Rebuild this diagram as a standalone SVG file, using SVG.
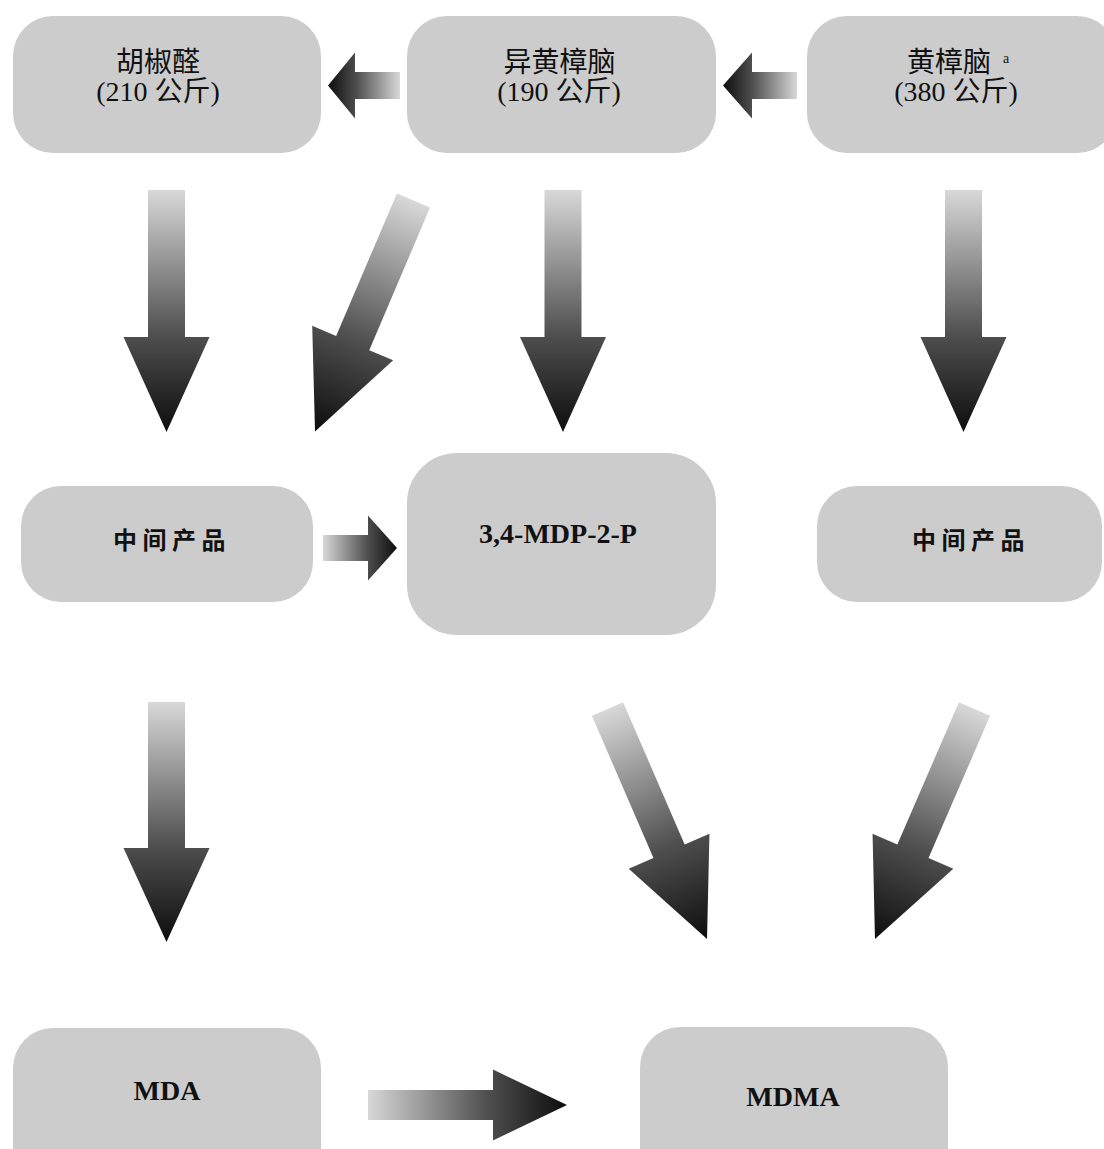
<svg xmlns="http://www.w3.org/2000/svg" width="1104" height="1149" viewBox="0 0 1104 1149">
<style>
.node{fill:#cccccc}
.lbl{font-family:"Liberation Serif","Noto Sans CJK SC",serif;font-size:28px;fill:#111}
.cjk{font-family:"Noto Sans CJK SC",sans-serif;font-size:24px;font-weight:bold;fill:#111;letter-spacing:5.5px}
.bold{font-family:"Liberation Serif",serif;font-size:28px;font-weight:bold;fill:#111}
.arr{fill:url(#g)}
</style>
<defs>
<linearGradient id="g" x1="0" y1="0" x2="0" y2="1">
<stop offset="0" stop-color="#d8d8d8"/>
<stop offset="0.6" stop-color="#4f4f4f"/>
<stop offset="1" stop-color="#0d0d0d"/>
</linearGradient>
</defs>
<rect width="1104" height="1149" fill="#ffffff"/>
<g id="connectors">
<!-- top horizontal arrows (pointing left) -->
<polygon class="arr" transform="translate(400,85.5) rotate(90)" points="-13.5,0 13.5,0 13.5,45 33,45 0,72 -33,45 -13.5,45"/>
<polygon class="arr" transform="translate(797,85.5) rotate(90)" points="-13.5,0 13.5,0 13.5,45 33,45 0,74 -33,45 -13.5,45"/>
<!-- row 1 down arrows -->
<polygon class="arr" transform="translate(166.5,190)" points="-18.5,0 18.5,0 18.5,147 43,147 0,242 -43,147 -18.5,147"/>
<polygon class="arr" transform="translate(413.5,200.5) rotate(23.1)" points="-18,0 18,0 18,155 44,155 0,251 -44,155 -18,155"/>
<polygon class="arr" transform="translate(563,190)" points="-18.5,0 18.5,0 18.5,147 43,147 0,242 -43,147 -18.5,147"/>
<polygon class="arr" transform="translate(963.5,190)" points="-18.5,0 18.5,0 18.5,147 43,147 0,242 -43,147 -18.5,147"/>
<!-- middle horizontal arrow -->
<polygon class="arr" transform="translate(323,548) rotate(-90)" points="-13,0 13,0 13,45 32.5,45 0,74 -32.5,45 -13,45"/>
<!-- row 2 down arrows -->
<polygon class="arr" transform="translate(166.5,702)" points="-18.5,0 18.5,0 18.5,146 43,146 0,240 -43,146 -18.5,146"/>
<polygon class="arr" transform="translate(607.5,709) rotate(-23.4)" points="-17,0 17,0 17,155 44,155 0,250.6 -44,155 -17,155"/>
<polygon class="arr" transform="translate(974.5,709) rotate(23.4)" points="-17,0 17,0 17,155 44,155 0,250.6 -44,155 -17,155"/>
<!-- bottom arrow -->
<polygon class="arr" transform="translate(368,1105) rotate(-90)" points="-15,0 15,0 15,125 35.5,125 0,199 -35.5,125 -15,125"/>
</g>
<g id="node-piperonal">
<rect class="node" x="13" y="16" width="308" height="137" rx="40"/>
<text class="lbl" x="158" y="72" text-anchor="middle">胡椒醛</text>
<text class="lbl" x="158" y="101" text-anchor="middle">(210 公斤)</text>
</g>
<g id="node-isosafrole">
<rect class="node" x="407" y="16" width="309" height="137" rx="40"/>
<text class="lbl" x="559.5" y="72" text-anchor="middle">异黄樟脑</text>
<text class="lbl" x="559" y="101" text-anchor="middle">(190 公斤)</text>
</g>
<g id="node-safrole">
<rect class="node" x="807" y="16" width="310" height="137" rx="40"/>
<text class="lbl" x="907" y="72">黄樟脑<tspan x="1003" y="63" font-size="14">a</tspan></text>
<text class="lbl" x="956" y="101" text-anchor="middle">(380 公斤)</text>
</g>
<g id="node-intermediate-left">
<rect class="node" x="21" y="486" width="292" height="116" rx="40"/>
<text class="cjk" x="113" y="549">中间产品</text>
</g>
<g id="node-mdp2p">
<rect class="node" x="407" y="453" width="309" height="182" rx="50"/>
<text class="bold" x="558" y="543" text-anchor="middle">3,4-MDP-2-P</text>
</g>
<g id="node-intermediate-right">
<rect class="node" x="817" y="486" width="285" height="116" rx="40"/>
<text class="cjk" x="912" y="549">中间产品</text>
</g>
<g id="node-mda">
<rect class="node" x="13" y="1028" width="308" height="160" rx="40"/>
<text class="bold" x="167" y="1100" text-anchor="middle">MDA</text>
</g>
<g id="node-mdma">
<rect class="node" x="640" y="1027" width="308" height="160" rx="40"/>
<text class="bold" x="793" y="1106" text-anchor="middle">MDMA</text>
</g>
</svg>
